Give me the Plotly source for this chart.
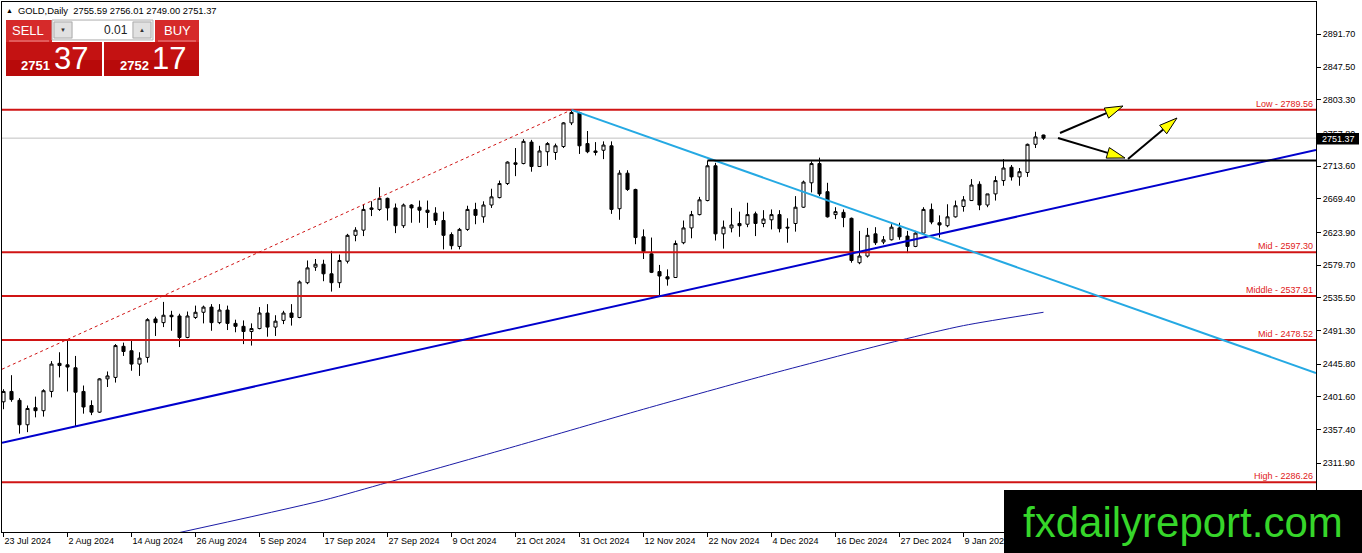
import plotly.graph_objects as go

# ---------------- data ----------------
tick_labels = ["23 Jul 2024", "2 Aug 2024", "14 Aug 2024", "26 Aug 2024", "5 Sep 2024",
               "17 Sep 2024", "27 Sep 2024", "9 Oct 2024", "21 Oct 2024", "31 Oct 2024",
               "12 Nov 2024", "22 Nov 2024", "4 Dec 2024", "16 Dec 2024", "27 Dec 2024",
               "9 Jan 2025"]
tick_bars = [0, 8, 16, 24, 32, 40, 48, 56, 64, 72, 80, 88, 96, 104, 112, 120]

open_ = [2395, 2409, 2397, 2364, 2387, 2383, 2409, 2447, 2445, 2441,
         2409, 2390, 2381, 2426, 2428, 2470, 2464, 2446, 2455, 2507,
         2502, 2512, 2511, 2482, 2509, 2516, 2523, 2502, 2519, 2501,
         2497, 2490, 2494, 2515, 2496, 2505, 2515, 2509, 2556, 2577,
         2581, 2568, 2556, 2585, 2620, 2627, 2655, 2655, 2670, 2657,
         2633, 2661, 2658, 2654, 2650, 2640, 2621, 2605, 2628, 2655,
         2645, 2661, 2671, 2690, 2718, 2717, 2746, 2713, 2733, 2732,
         2740, 2772, 2786, 2744, 2734, 2735, 2741, 2656, 2704, 2682,
         2618, 2595, 2571, 2564, 2563, 2610, 2630, 2648, 2667, 2714,
         2622, 2630, 2636, 2635, 2649, 2636, 2641, 2648, 2631, 2636,
         2658, 2691, 2717, 2679, 2648, 2651, 2643, 2583, 2592, 2622,
         2611, 2614, 2630, 2619, 2605, 2623, 2655, 2637, 2633, 2645,
         2659, 2667, 2689, 2661, 2676, 2694, 2712, 2699, 2705, 2743,
         2755.59]
high_ = [2412, 2431, 2400, 2390, 2402, 2412, 2450, 2462, 2478, 2457,
         2417, 2397, 2427, 2436, 2473, 2475, 2478, 2462, 2508, 2510,
         2530, 2518, 2514, 2517, 2525, 2525, 2527, 2527, 2525, 2506,
         2505, 2501, 2523, 2527, 2512, 2518, 2527, 2559, 2586, 2588,
         2587, 2599, 2594, 2622, 2631, 2662, 2666, 2685, 2671, 2663,
         2663, 2662, 2667, 2667, 2658, 2652, 2624, 2630, 2660, 2664,
         2666, 2683, 2694, 2720, 2738, 2750, 2749, 2741, 2746, 2744,
         2773, 2789.56, 2787, 2761, 2746, 2747, 2747, 2708, 2708, 2683,
         2628, 2617, 2580, 2574, 2613, 2640, 2653, 2672, 2721, 2718,
         2640, 2657, 2652, 2664, 2652, 2654, 2655, 2654, 2643, 2673,
         2694, 2720, 2725, 2691, 2658, 2655, 2644, 2626, 2630, 2631,
         2619, 2635, 2637, 2626, 2626, 2658, 2663, 2647, 2662, 2667,
         2673, 2696, 2693, 2676, 2700, 2723, 2715, 2711, 2744, 2760,
         2756.01]
low_ = [2385, 2395, 2352, 2354, 2374, 2375, 2401, 2428, 2409, 2361,
        2379, 2377, 2380, 2415, 2421, 2457, 2437, 2430, 2448, 2484,
        2496, 2491, 2469, 2481, 2507, 2501, 2491, 2500, 2492, 2489,
        2473, 2471, 2493, 2483, 2484, 2500, 2498, 2508, 2554, 2572,
        2558, 2544, 2549, 2582, 2612, 2619, 2646, 2653, 2640, 2623,
        2630, 2637, 2637, 2630, 2634, 2601, 2601, 2601, 2626, 2635,
        2637, 2657, 2670, 2688, 2700, 2716, 2706, 2713, 2714, 2722,
        2738, 2769, 2730, 2731, 2728, 2723, 2649, 2641, 2680, 2608,
        2588, 2569, 2537, 2552, 2563, 2608, 2616, 2647, 2666, 2613,
        2602, 2624, 2618, 2631, 2619, 2631, 2628, 2624, 2610, 2625,
        2657, 2678, 2673, 2644, 2642, 2631, 2583, 2581, 2590, 2607,
        2608, 2613, 2614, 2596, 2604, 2622, 2635, 2617, 2631, 2644,
        2652, 2667, 2654, 2658, 2667, 2687, 2694, 2687, 2699, 2738,
        2749.00]
close_ = [2409, 2398, 2364, 2386, 2383, 2410, 2446, 2444, 2442, 2408,
          2388, 2381, 2426, 2430, 2471, 2463, 2446, 2454, 2506, 2502,
          2512, 2510, 2482, 2511, 2516, 2523, 2502, 2519, 2501, 2497,
          2490, 2494, 2515, 2496, 2504, 2515, 2509, 2557, 2576, 2581,
          2568, 2556, 2586, 2620, 2627, 2655, 2657, 2670, 2657, 2633,
          2661, 2657, 2654, 2651, 2640, 2620, 2606, 2628, 2655, 2647,
          2661, 2672, 2690, 2719, 2716, 2747, 2713, 2734, 2744, 2741,
          2772, 2786, 2741, 2733, 2732, 2742, 2655, 2704, 2682, 2617,
          2598, 2570, 2565, 2561, 2609, 2630, 2648, 2668, 2714, 2622,
          2631, 2634, 2633, 2648, 2636, 2642, 2648, 2629, 2630, 2658,
          2692, 2717, 2676, 2645, 2652, 2644, 2586, 2592, 2620, 2610,
          2614, 2631, 2618, 2605, 2623, 2655, 2638, 2634, 2645, 2660,
          2668, 2688, 2661, 2676, 2694, 2711, 2699, 2706, 2743, 2753,
          2751.37]

# moving average, read at a few bars
ma_bars = [21, 40, 48, 64, 80, 96, 112, 120, 130]
ma_vals = [2216, 2262, 2286, 2335, 2385, 2433, 2478, 2498, 2516]

price_ticks = [2891.70, 2847.50, 2803.30, 2757.80, 2713.60, 2669.40, 2623.90,
               2579.70, 2535.50, 2491.30, 2445.80, 2401.60, 2357.40, 2311.90]

level_names = ["Low", "Mid", "Middle", "Mid", "High"]
level_prices = [2789.56, 2597.30, 2537.91, 2478.52, 2286.26]

# drawn objects: (bar, price) end points
support_line = [(-0.19, 2339.7), (164.06, 2735.3)]
down_line = [(71, 2789.56), (164.06, 2434.0)]
channel_line = [(-0.19, 2439.0), (71, 2789.56)]
resistance = (88, 2721.3)

bid, ask = 2751.37, 2752.17
symbol = "GOLD,Daily"
lot = "0.01"

# ---------------- geometry ----------------
W, H = 1362, 553
PL, PR, PT, PB = 2, 1316, 2, 532
XR = [-0.1875, 164.0625]
YR = [2219.05, 2935.35]


def PX(x):
    return (x - PL) / (PR - PL)


def PY(y):
    return (PB - y) / (PB - PT)


FONT = "Liberation Sans, Arial, sans-serif"
NARROW = "Liberation Sans Narrow, Liberation Sans, Arial, sans-serif"

n = len(close_)
xs = list(range(n))

fig = go.Figure()
fig.add_trace(go.Candlestick(
    x=xs, open=open_, high=high_, low=low_, close=close_,
    increasing=dict(line=dict(color="black", width=1), fillcolor="white"),
    decreasing=dict(line=dict(color="black", width=1), fillcolor="black"),
    whiskerwidth=0, hoverinfo="skip", showlegend=False))

fig.add_trace(go.Scatter(
    x=ma_bars, y=ma_vals, mode="lines",
    line=dict(color="#1b1ba6", width=1, shape="spline", smoothing=0.7),
    hoverinfo="skip", showlegend=False))

shapes = []
ann = []

# level lines
for nm, p in zip(level_names, level_prices):
    shapes.append(dict(type="line", xref="paper", yref="y", x0=0, x1=1, y0=p, y1=p,
                       line=dict(color="#d01414", width=2), layer="above"))
    ann.append(dict(xref="paper", yref="y", x=1, y=p, xanchor="right", yanchor="bottom",
                    xshift=-1, yshift=-1, text=f"{nm} - {p:.2f}", showarrow=False,
                    font=dict(family=FONT, size=9, color="#e01818")))

# bid line
shapes.append(dict(type="line", xref="paper", yref="y", x0=0, x1=1, y0=bid, y1=bid,
                   line=dict(color="#c0c0c0", width=1), layer="below"))

# channel (dotted red)
shapes.append(dict(type="line", xref="x", yref="y",
                   x0=channel_line[0][0], y0=channel_line[0][1],
                   x1=channel_line[1][0], y1=channel_line[1][1],
                   line=dict(color="#d01414", width=1, dash="3px,3px"), layer="above"))
# support (blue)
shapes.append(dict(type="line", xref="x", yref="y",
                   x0=support_line[0][0], y0=support_line[0][1],
                   x1=support_line[1][0], y1=support_line[1][1],
                   line=dict(color="#0000cd", width=2), layer="above"))
# down trend (light blue)
shapes.append(dict(type="line", xref="x", yref="y",
                   x0=down_line[0][0], y0=down_line[0][1],
                   x1=down_line[1][0], y1=down_line[1][1],
                   line=dict(color="#25a9e3", width=2), layer="above"))
# resistance (black)
shapes.append(dict(type="line", xref="x", yref="y",
                   x0=resistance[0], y0=resistance[1], x1=XR[1], y1=resistance[1],
                   line=dict(color="black", width=2), layer="above"))

# arrows (pixel space)
arrows = [((1060, 133), (1123, 106)), ((1058, 138), (1125, 158)), ((1128, 159), (1177, 118))]
for (sx, sy), (tx, ty) in arrows:
    dx, dy = tx - sx, ty - sy
    L = (dx * dx + dy * dy) ** 0.5
    ux, uy = dx / L, dy / L
    nx, ny = -uy, ux
    hl, hw = 18, 5.5
    bx, by = tx - hl * ux, ty - hl * uy
    shapes.append(dict(type="line", xref="paper", yref="paper",
                       x0=PX(sx), y0=PY(sy), x1=PX(bx), y1=PY(by),
                       line=dict(color="black", width=2), layer="above"))
    pts = [(tx, ty), (bx + hw * nx, by + hw * ny), (bx - hw * nx, by - hw * ny)]
    path = "M {} {} L {} {} L {} {} Z".format(*[v for p in pts for v in (PX(p[0]), PY(p[1]))])
    shapes.append(dict(type="path", xref="paper", yref="paper", path=path,
                       fillcolor="#ffff00", line=dict(color="black", width=1), layer="above"))

# last price label on the scale
shapes.append(dict(type="rect", xref="paper", yref="paper",
                   x0=PX(1316.5), x1=PX(1359), y0=PY(144.5), y1=PY(133), fillcolor="black",
                   line=dict(width=0), layer="above"))
ann.append(dict(xref="paper", yref="paper", x=PX(1338), y=PY(139), text=f"{bid:.2f}",
                showarrow=False, xanchor="center", yanchor="middle", borderpad=0,
                font=dict(family=FONT, size=9, color="white")))

# header
ann.append(dict(xref="paper", yref="paper", x=PX(4), y=PY(10.5), text="▲",
                showarrow=False, xanchor="left", yanchor="middle",
                font=dict(family=FONT, size=7, color="black")))
ann.append(dict(xref="paper", yref="paper", x=PX(16), y=PY(10.5),
                text=f"{symbol}  {open_[-1]:.2f} {high_[-1]:.2f} {low_[-1]:.2f} {close_[-1]:.2f}",
                showarrow=False, xanchor="left", yanchor="middle",
                font=dict(family=FONT, size=9.4, color="black")))


def rect(x0, y0, x1, y1, fill, lc=None, lw=0):
    shapes.append(dict(type="rect", xref="paper", yref="paper",
                       x0=PX(x0), x1=PX(x1), y0=PY(y1), y1=PY(y0), fillcolor=fill,
                       line=dict(color=lc or fill, width=lw), layer="above"))


def txt(x, y, s, size, color, anchor="center", family=FONT):
    ann.append(dict(xref="paper", yref="paper", x=PX(x), y=PY(y), text=s, showarrow=False,
                    xanchor=anchor, yanchor="middle", borderpad=0,
                    font=dict(family=family, size=size, color=color)))


# trade panel
rect(6, 20, 52, 42, "#d62a2a")
rect(155, 20, 199, 42, "#d62a2a")
rect(6, 42, 102, 76, "#c41212")
rect(104, 42, 199, 76, "#c41212")
rect(6, 60, 102, 76, "#b80a0a")
rect(104, 60, 199, 76, "#b80a0a")
shapes.append(dict(type="line", xref="paper", yref="paper", x0=PX(9), x1=PX(49),
                   y0=PY(41), y1=PY(41), line=dict(color="#ee8a8a", width=1), layer="above"))
shapes.append(dict(type="line", xref="paper", yref="paper", x0=PX(158), x1=PX(196),
                   y0=PY(41), y1=PY(41), line=dict(color="#ee8a8a", width=1), layer="above"))
rect(52, 20, 153, 40, "#f0f0f0", "#b5b5b5", 1)
rect(54, 22, 72, 38, "#e1e1e1", "#adadad", 1)
rect(133, 22, 151, 38, "#e1e1e1", "#adadad", 1)
rect(73, 21, 132, 39, "white")
txt(63, 30, "▼", 6, "#333333")
txt(142, 30, "▲", 6, "#333333")
txt(129, 30, lot, 12, "#222222", anchor="right")
txt(28, 31, "SELL", 13, "white", family=NARROW)
txt(177, 31, "BUY", 13, "white", family=NARROW)
b_int, b_dec = f"{bid:.2f}".split(".")
a_int, a_dec = f"{ask:.2f}".split(".")
txt(35, 65.5, f"<b>{b_int}</b>", 13, "white", family=NARROW)
txt(71, 59, b_dec, 31, "white")
txt(134, 65.5, f"<b>{a_int}</b>", 13, "white", family=NARROW)
txt(169, 59, a_dec, 31, "white")

# watermark
rect(1004, 490, 1362, 553, "black")
ann.append(dict(xref="paper", yref="paper", x=PX(1183), y=PY(522), text="fxdailyreport.com",
                showarrow=False, xanchor="center", yanchor="middle", borderpad=0,
                font=dict(family=FONT, size=42, color="#36d62a")))

fig.update_layout(
    width=W, height=H, autosize=False,
    margin=dict(l=PL, r=W - PR, t=PT, b=H - PB, pad=0),
    paper_bgcolor="white", plot_bgcolor="white",
    showlegend=False, boxgap=0.45, hovermode=False,
    shapes=shapes, annotations=ann,
    xaxis=dict(range=XR, tickmode="array", tickvals=tick_bars, ticktext=tick_labels,
               ticks="outside", ticklen=4, tickcolor="black", tickwidth=1,
               ticklabelposition="outside right", tickangle=0,
               tickfont=dict(family=FONT, size=9, color="black"),
               showgrid=False, zeroline=False, showline=True, linecolor="black",
               linewidth=1, mirror=True, rangeslider=dict(visible=False), fixedrange=True),
    yaxis=dict(range=YR, side="right", tickmode="array", tickvals=price_ticks,
               ticktext=[f"{v:.2f}" for v in price_ticks],
               ticks="outside", ticklen=4, tickcolor="black", tickwidth=1,
               tickfont=dict(family=FONT, size=9, color="black"),
               showgrid=False, zeroline=False, showline=True, linecolor="black",
               linewidth=1, mirror=True, fixedrange=True),
)

fig.write_html("out.html", config={"displayModeBar": False},
               post_script="document.body.style.margin='0';"
               "document.body.style.overflow='hidden';")
